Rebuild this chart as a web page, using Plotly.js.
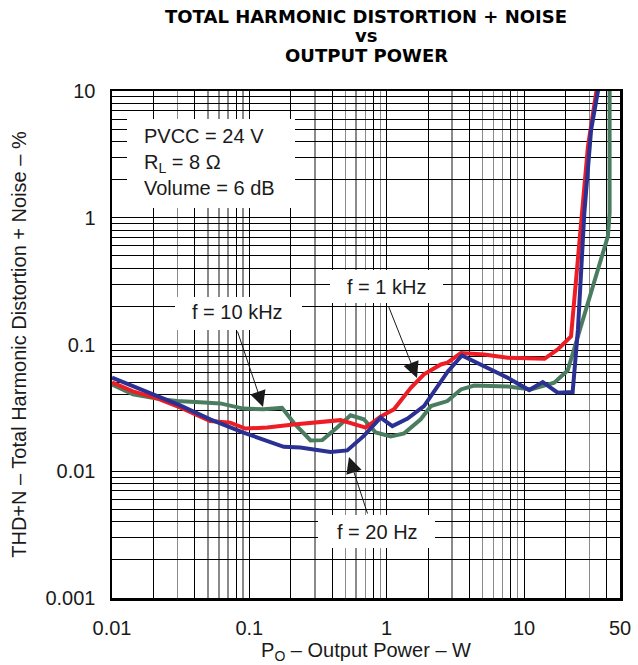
<!DOCTYPE html>
<html>
<head>
<meta charset="utf-8">
<script src="https://cdn.plot.ly/plotly-3.0.1.min.js"></script>
<style>html,body{margin:0;padding:0;background:#fff;}#chart{width:638px;height:665px;}</style>
</head>
<body>
<div id="chart"></div>
<script>
// ---- Data ----
// f = 1 kHz (red)
const p1k   = [0.01, 0.0142, 0.0213, 0.0313, 0.0519, 0.0726, 0.0935, 0.135, 0.210, 0.390, 0.461, 0.703, 0.903, 1.13, 1.50, 1.87, 2.48, 2.77, 3.47, 5.13, 7.60, 14.1, 17.6, 22.0, 29.2, 33.6, 34.8];
const thd1k = [0.0502, 0.0427, 0.0376, 0.0319, 0.0249, 0.0242, 0.0217, 0.0221, 0.0234, 0.0249, 0.0253, 0.0221, 0.0270, 0.0308, 0.0456, 0.0581, 0.0696, 0.0718, 0.0857, 0.0834, 0.0786, 0.0771, 0.0913, 0.116, 3.64, 9.87, 12];
// f = 20 Hz (blue)
const p20   = [0.01, 0.0212, 0.0313, 0.0519, 0.0907, 0.178, 0.235, 0.390, 0.516, 0.682, 0.903, 1.10, 1.42, 1.87, 2.20, 2.79, 3.53, 5.43, 7.60, 10.9, 13.7, 17.6, 22.6, 24.7, 27.5, 30.8, 34.5, 35.6];
const thd20 = [0.0547, 0.0397, 0.0331, 0.0257, 0.0202, 0.0156, 0.0154, 0.0142, 0.0146, 0.0190, 0.0265, 0.0227, 0.0260, 0.0327, 0.0419, 0.0613, 0.0819, 0.0655, 0.0547, 0.0437, 0.0505, 0.0417, 0.0421, 0.131, 1.09, 4.93, 9.9, 12];
// f = 10 kHz (green)
const p10k   = [0.01, 0.0142, 0.0212, 0.0296, 0.0438, 0.0613, 0.0907, 0.127, 0.173, 0.210, 0.279, 0.340, 0.436, 0.546, 0.682, 0.832, 1.07, 1.34, 1.77, 2.10, 2.77, 3.47, 4.34, 7.60, 11.2, 16.6, 20.8, 24.7, 30.8, 40.8, 42.0, 42.0];
const thd10k = [0.0484, 0.0404, 0.0374, 0.0358, 0.0351, 0.0343, 0.0312, 0.0308, 0.0317, 0.0242, 0.0175, 0.0176, 0.0221, 0.0276, 0.0257, 0.0202, 0.0188, 0.0199, 0.0257, 0.0327, 0.0358, 0.0442, 0.0475, 0.0467, 0.0442, 0.0499, 0.0624, 0.116, 0.255, 0.713, 1.09, 12];

// Tick labels
const xLabelVals = [0.01, 0.1, 1, 10, 50];
const xLabelText = ['0.01', '0.1', '1', '10', '50'];
const yLabelVals = [0.001, 0.01, 0.1, 1, 10];
const yLabelText = ['0.001', '0.01', '0.1', '1', '10'];
// title lines
const titleLines = ['TOTAL HARMONIC DISTORTION + NOISE', 'vs', 'OUTPUT POWER'];
// grid multipliers
const xDarkMult = [2, 4, 8];
const xGrayMult = [3, 5, 6, 7, 9];
const yMult = [2, 3, 4, 5, 6, 7, 8, 9];

const FONT = 'Liberation Sans, Arial, Helvetica, sans-serif';
const TFONT = 'DejaVu Sans, Liberation Sans, Arial, sans-serif';

function mults(decades, m, maxV) {
  const out = [];
  decades.forEach(d => m.forEach(k => { const v = +(d * k).toPrecision(6); if (v < maxV) out.push(v); }));
  return out;
}
const xDecades = [0.01, 0.1, 1, 10];
const xDark = xLabelVals.concat(mults(xDecades, xDarkMult, 50));
const xDarkText = xDark.map(v => { const i = xLabelVals.indexOf(v); return i >= 0 ? xLabelText[i] : ''; });
const xGray = mults(xDecades, xGrayMult, 50);

const yDecades = [0.001, 0.01, 0.1, 1];
const yAll = yLabelVals.concat(mults(yDecades, yMult, 10));
const yAllText = yAll.map(v => { const i = yLabelVals.indexOf(v); return i >= 0 ? yLabelText[i] : ''; });

const traces = [
  {x: p10k, y: thd10k, mode: 'lines', line: {color: '#4A7D60', width: 4}, name: 'f = 10 kHz'},
  {x: p1k, y: thd1k, mode: 'lines', line: {color: '#EE1C25', width: 4}, name: 'f = 1 kHz'},
  {x: p20, y: thd20, mode: 'lines', line: {color: '#2B3192', width: 4}, name: 'f = 20 Hz'}
];

function px2x(px) { return (px - 112) / 508; }
function py2y(py) { return (598 - py) / 507; }
function box(x0, x1, y0, y1) {
  return {type: 'rect', xref: 'paper', yref: 'paper', x0: px2x(x0), x1: px2x(x1), y0: py2y(y1), y1: py2y(y0),
          fillcolor: '#ffffff', line: {width: 0}, layer: 'above'};
}
function label(text, cx, cy, anchor) {
  return {xref: 'paper', yref: 'paper', x: px2x(cx), y: py2y(cy), text: text, showarrow: false,
          xanchor: anchor || 'center', yanchor: 'middle', align: 'left',
          font: {family: FONT, size: 20, color: '#1a1a1a'}};
}
function arrow(tx, ty, sx, sy) {
  return {xref: 'paper', yref: 'paper', x: px2x(tx), y: py2y(ty), ax: sx - tx, ay: sy - ty, text: '',
          showarrow: true, arrowhead: 2, arrowsize: 3.2, arrowwidth: 1, arrowcolor: '#1a1a1a', standoff: 0, startstandoff: 0};
}
const titleY = [17, 36, 55];
const titleAnns = titleLines.map((t, i) => ({
  xref: 'paper', yref: 'paper', x: 0.5, y: py2y(titleY[i]), text: '<b>' + t + '</b>', showarrow: false,
  xanchor: 'center', yanchor: 'middle', font: {family: TFONT, size: 18, color: '#000'}
}));

const layout = {
  width: 638, height: 665,
  margin: {l: 112, r: 18, t: 91, b: 67},
  paper_bgcolor: '#ffffff', plot_bgcolor: '#ffffff',
  showlegend: false,
  font: {family: FONT, color: '#1a1a1a'},
  xaxis: {
    type: 'log', range: [Math.log10(0.01), Math.log10(50)],
    tickmode: 'array', tickvals: xDark, ticktext: xDarkText,
    ticks: '', ticklabelstandoff: 10,
    tickfont: {family: FONT, size: 20, color: '#1a1a1a'},
    showgrid: true, gridcolor: '#000000', gridwidth: 1,
    minor: {tickmode: 'array', tickvals: xGray, showgrid: true, gridcolor: '#8a8a8a', gridwidth: 1.5, ticks: ''},
    showline: true, mirror: true, linecolor: '#000', linewidth: 2.5,
    zeroline: false,
    title: {text: 'P<sub>O</sub> – Output Power – W', font: {family: FONT, size: 20, color: '#1a1a1a'}, standoff: 6}
  },
  yaxis: {
    type: 'log', range: [Math.log10(0.001), Math.log10(10)],
    tickmode: 'array', tickvals: yAll, ticktext: yAllText,
    ticks: '', ticklabelstandoff: 10,
    tickfont: {family: FONT, size: 20, color: '#1a1a1a'},
    showgrid: true, gridcolor: '#000000', gridwidth: 1,
    showline: true, mirror: true, linecolor: '#000', linewidth: 2.5,
    zeroline: false,
    title: {text: 'THD+N – Total Harmonic Distortion + Noise – %', font: {family: FONT, size: 20, color: '#1a1a1a'}, standoff: 14}
  },
  shapes: [
    box(127, 295, 119, 208),
    box(175, 302, 297, 330),
    box(330, 443, 270, 303),
    box(318, 435, 515, 548)
  ],
  annotations: titleAnns.concat([
    label('PVCC = 24 V<br>R<sub>L</sub> = 8 Ω<br>Volume = 6 dB', 142, 162, 'left'),
    label('f = 10 kHz', 237.5, 312),
    label('f = 1 kHz', 386, 287),
    label('f = 20 Hz', 377, 532),
    arrow(263, 407, 237, 330),
    arrow(417, 378, 388, 305),
    arrow(349, 457, 368, 515)
  ])
};

Plotly.newPlot('chart', traces, layout, {displayModeBar: false, staticPlot: true});
</script>
</body>
</html>
